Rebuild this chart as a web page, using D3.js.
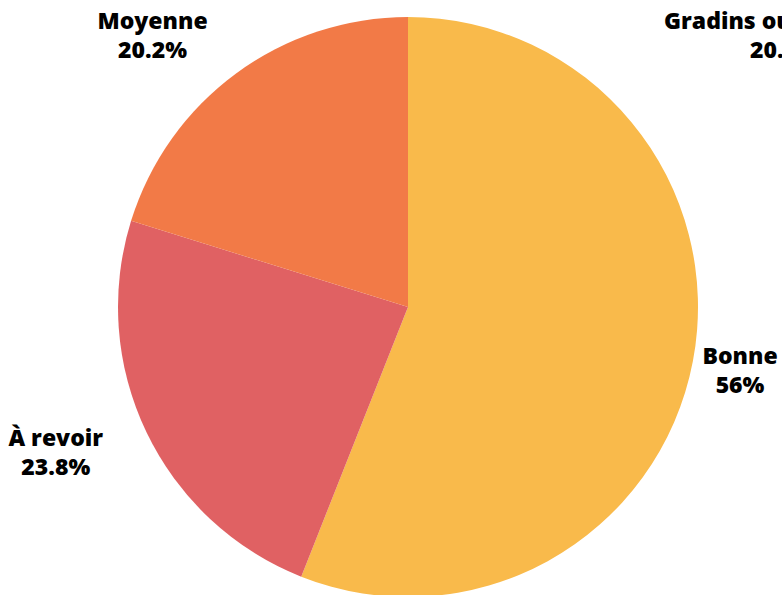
<!DOCTYPE html>
<html>
<head>
<meta charset="utf-8">
<script src="https://cdn.jsdelivr.net/npm/d3@7"></script>
<style>
  html, body { margin: 0; padding: 0; background: #ffffff; overflow: hidden; }
  svg { display: block; }
  text { font-family: "Open Sans", "Noto Sans", sans-serif; font-weight: 800; font-size: 23px; fill: #000; }
</style>
</head>
<body>
<svg id="chart" width="782" height="595"></svg>
<script>
// ---- data ----
const categories = ["Gradins ou tribunes.", "Bonne", "À revoir", "Moyenne"];
const values = [0, 56, 23.8, 20.2];
const percentLabels = ["20.2%", "56%", "23.8%", "20.2%"];
const colors = ["#F4A7A0", "#F9BA4B", "#E06163", "#F27A47"];

// ---- layout ----
const W = 782, H = 595;
const cx = 408, cy = 307, R = 290;
const labelR = 338;
const lineGap = 29;
const topLimit = 35;
const zeroLabelLeft = 664;

const svg = d3.select("#chart");
const g = svg.append("g").attr("transform", `translate(${cx},${cy})`);

const pie = d3.pie().sort(null).value(d => d.v).startAngle(0).endAngle(2 * Math.PI);
const arc = d3.arc().innerRadius(0).outerRadius(R);
const data = categories.map((c, i) => ({ c, v: values[i], p: percentLabels[i], col: colors[i] }));
const arcs = pie(data);

g.selectAll("path.slice")
  .data(arcs)
  .join("path")
  .attr("class", "slice")
  .attr("d", arc)
  .attr("fill", d => d.data.col)
  .attr("stroke", d => d.data.v === 0 ? d.data.col : "none")
  .attr("stroke-width", d => d.data.v === 0 ? 1 : 0);

// labels
const lg = svg.append("g");
arcs.forEach(d => {
  const a = (d.startAngle + d.endAngle) / 2;
  let px = cx + Math.sin(a) * labelR;
  let py = cy - Math.cos(a) * labelR;
  py = Math.max(py, topLimit);
  const t = lg.append("g");
  const l1 = t.append("text").attr("text-anchor", "middle").attr("y", -lineGap / 2 + 8).text(d.data.c);
  const l2 = t.append("text").attr("text-anchor", "middle").attr("y", lineGap / 2 + 8).text(d.data.p);
  const w = Math.max(l1.node().getComputedTextLength(), l2.node().getComputedTextLength());
  let bx;
  if (d.data.v === 0) bx = zeroLabelLeft + w / 2;       // empty slice: pushed aside
  else if (px < cx - 5) bx = px - w / 2;                // left half: block ends at anchor
  else bx = px;                                         // right half: centered
  t.attr("transform", `translate(${bx},${py})`);
});
</script>
</body>
</html>
